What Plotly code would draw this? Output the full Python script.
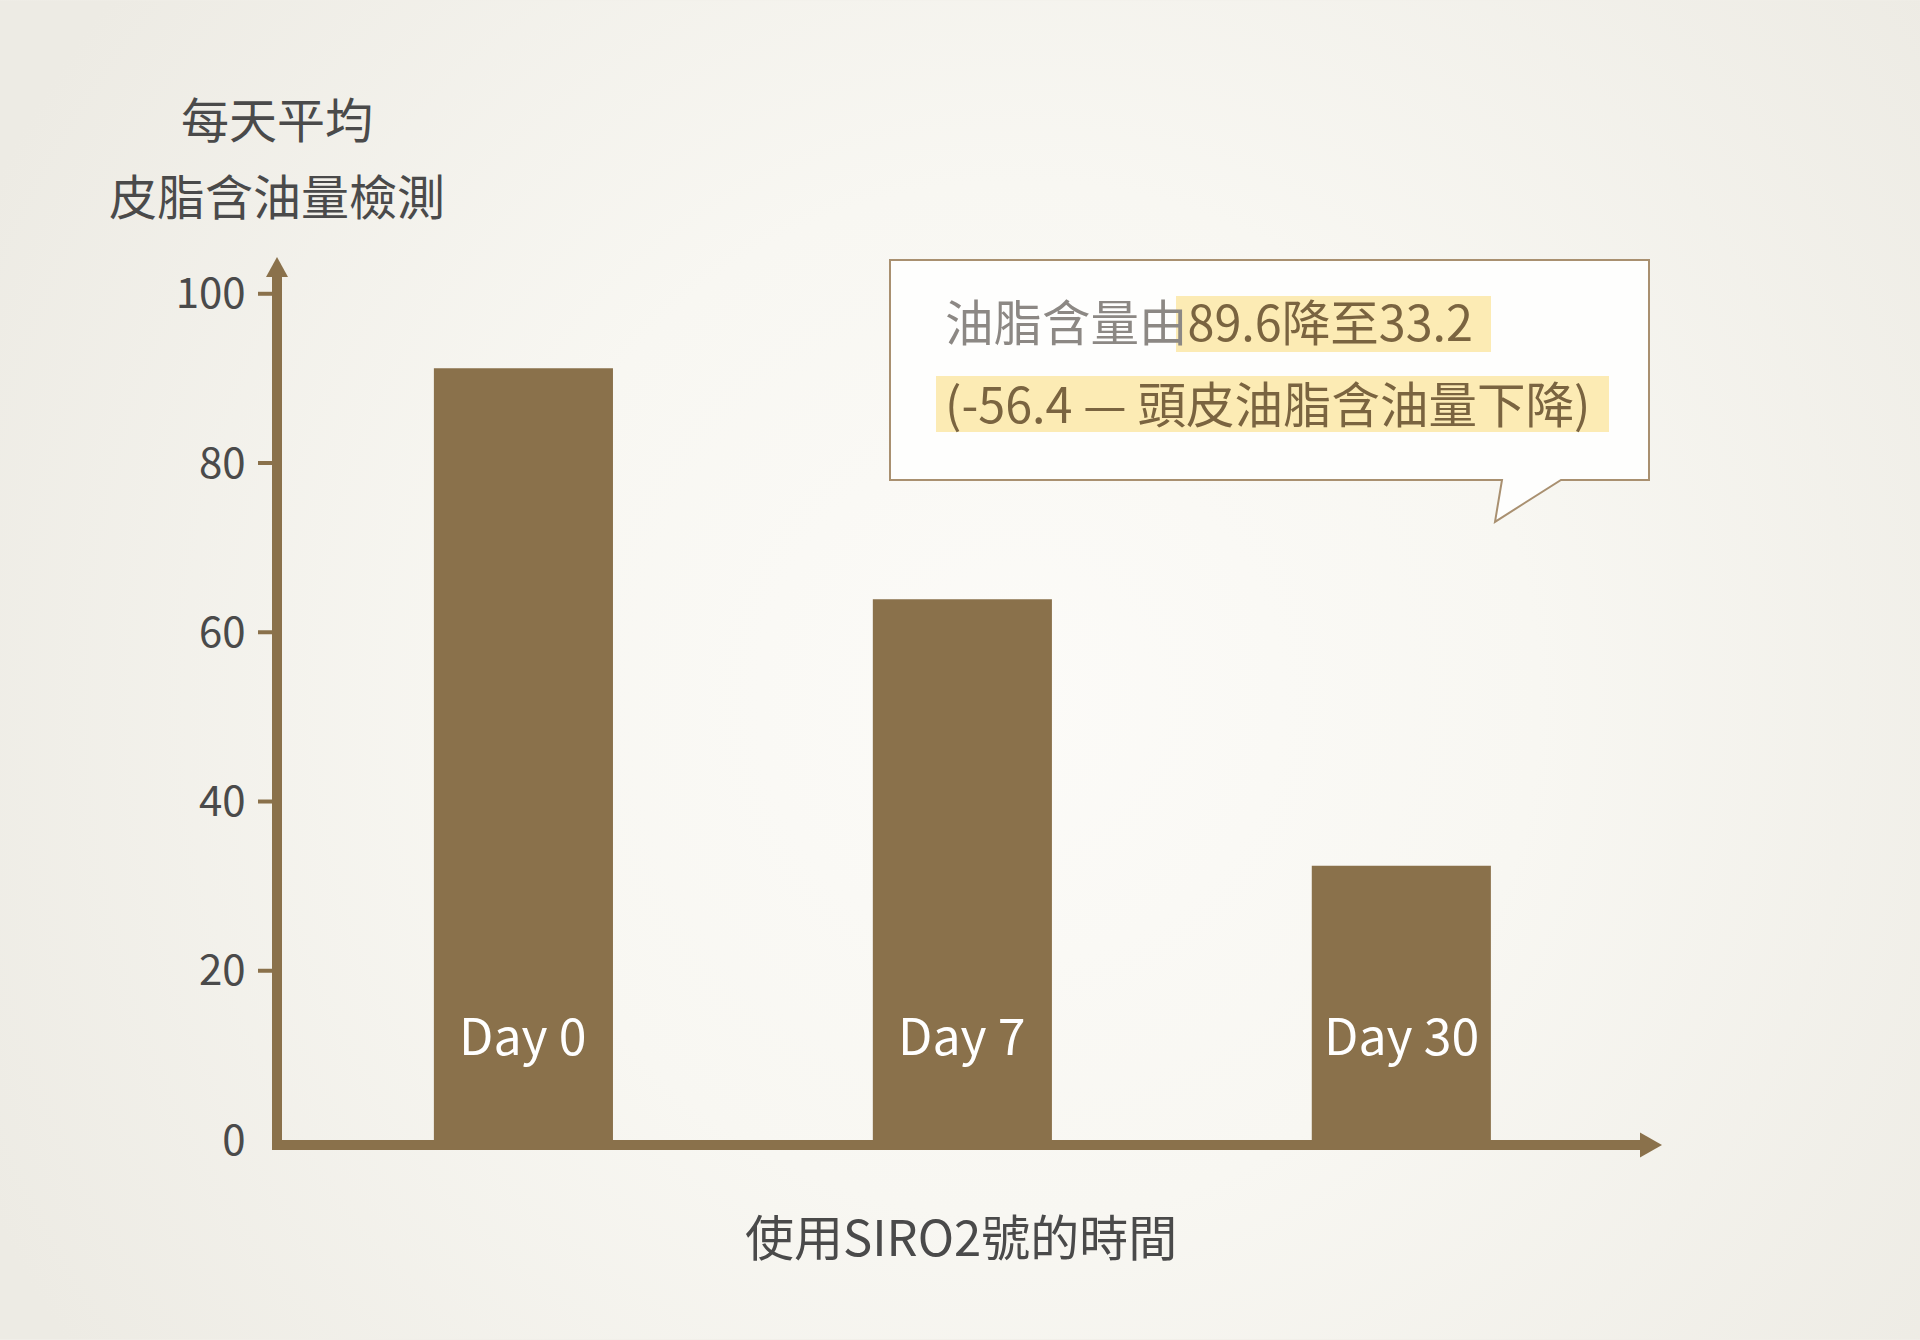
import base64

import plotly.graph_objects as go

# data
days = ["Day 0", "Day 7", "Day 30"]
oil_values = [91.2, 63.9, 32.4]
y_ticks = [0, 20, 40, 60, 80, 100]

y_title_lines = ["每天平均", "皮脂含油量檢測"]
x_title = "使用SIRO2號的時間"
note_line1_gray = "油脂含量由"
note_line1_hi = "89.6降至33.2"
note_line2 = "(-56.4 — 頭皮油脂含油量下降)"

BROWN = "#8a714b"
DARK = "#4a4a4a"
FONT = "Noto Sans CJK TC"

# plot area in page pixels
L, R, T, B = 282, 1641, 276, 1140.5


def px(x):
    return (x - L) / (R - L)


def py(y):
    return (B - y) / (B - T)


# soft radial background
svg = (
    '<svg xmlns="http://www.w3.org/2000/svg" width="1920" height="1340">'
    '<defs><radialGradient id="g" gradientUnits="userSpaceOnUse" cx="1020" cy="700" r="1150">'
    '<stop offset="0" stop-color="#fcfbf8"/><stop offset="0.45" stop-color="#f8f7f2"/>'
    '<stop offset="1" stop-color="#edebe4"/></radialGradient></defs>'
    '<rect width="1920" height="1340" fill="url(#g)"/></svg>'
)
bg_src = "data:image/svg+xml;base64," + base64.b64encode(svg.encode()).decode()

fig = go.Figure()
fig.add_trace(go.Bar(x=days, y=oil_values, marker=dict(color=BROWN, line=dict(width=0)),
                     hoverinfo="skip"))

fig.update_layout(
    width=1920, height=1340,
    margin=dict(l=L, r=1920 - R, t=T, b=1340 - B, autoexpand=False),
    paper_bgcolor="#f1efe9", plot_bgcolor="rgba(0,0,0,0)",
    showlegend=False, bargap=0.592,
    font=dict(family=FONT, color=DARK),
    xaxis=dict(range=[-0.550, 2.546], showgrid=False, zeroline=False, showticklabels=False,
               showline=True, linewidth=10, linecolor=BROWN, ticks=""),
    yaxis=dict(range=[0, 102.1], tickvals=y_ticks, showgrid=False, zeroline=False,
               showline=True, linewidth=10, linecolor=BROWN, ticks="outside", ticklen=14,
               tickwidth=4, tickcolor="rgba(0,0,0,0)", ticklabelstandoff=4,
               tickfont=dict(size=42, color=DARK)),
    images=[dict(source=bg_src, xref="paper", yref="paper", x=px(0), y=py(0),
                 sizex=1920 / (R - L), sizey=1340 / (B - T), sizing="stretch",
                 xanchor="left", yanchor="top", layer="below")],
)

shapes = []
# tick marks (none at 0)
for v in y_ticks[1:]:
    shapes.append(dict(type="line", xref="paper", yref="y", x0=px(258), x1=px(273), y0=v, y1=v,
                       line=dict(color=BROWN, width=4)))
# arrow heads
shapes.append(dict(type="path", xref="paper", yref="paper", fillcolor=BROWN, line=dict(width=0),
                   path=f"M{px(266)},{py(277)} L{px(288)},{py(277)} L{px(277)},{py(257)} Z"))
shapes.append(dict(type="path", xref="paper", yref="paper", fillcolor=BROWN, line=dict(width=0),
                   path=f"M{px(1640)},{py(1133)} L{px(1640)},{py(1158)} L{px(1662)},{py(1145.5)} Z"))
# callout box
box = [(890, 260), (1649, 260), (1649, 480), (1561, 480), (1495, 522), (1502, 480), (890, 480)]
shapes.append(dict(type="path", xref="paper", yref="paper", fillcolor="#fefefd",
                   line=dict(color="#a99070", width=2),
                   path="M" + " L".join(f"{px(a)},{py(b)}" for a, b in box) + " Z"))
# highlights
for x0, y0, x1, y1 in [(1176, 296, 1491, 352), (936, 376, 1609, 432)]:
    shapes.append(dict(type="rect", xref="paper", yref="paper", x0=px(x0), x1=px(x1),
                       y0=py(y1), y1=py(y0), fillcolor="#fcebb4", line=dict(width=0)))
fig.update_layout(shapes=shapes)

ann = []
for line, ypx in zip(y_title_lines, [117, 194]):
    ann.append(dict(text=line, xref="paper", yref="paper", x=px(277), y=py(ypx), showarrow=False,
                    xanchor="center", yanchor="middle", font=dict(size=48, color=DARK)))
ann.append(dict(text=x_title, xref="paper", yref="paper", x=px(961), y=py(1235), showarrow=False,
                xanchor="center", yanchor="middle", font=dict(size=49, color=DARK)))
for d in days:
    ann.append(dict(text=d, x=d, y=0, yshift=107, showarrow=False, xanchor="center",
                    yanchor="middle", font=dict(size=50, color="white")))
ann.append(dict(text=f"<span style='color:#8c8884'>{note_line1_gray}</span>"
                     f"<span style='color:#7a6440'>{note_line1_hi}</span>",
                xref="paper", yref="paper", x=px(943), y=py(320), showarrow=False,
                xanchor="left", yanchor="middle", font=dict(size=48.5)))
ann.append(dict(text=note_line2, xref="paper", yref="paper", x=px(943), y=py(402),
                showarrow=False, xanchor="left", yanchor="middle",
                font=dict(size=48.5, color="#7a6440")))
fig.update_layout(annotations=ann)

fig.write_html("out.html", config={"displayModeBar": False},
               post_script="document.body.style.margin='0';document.body.style.overflow='hidden';")
